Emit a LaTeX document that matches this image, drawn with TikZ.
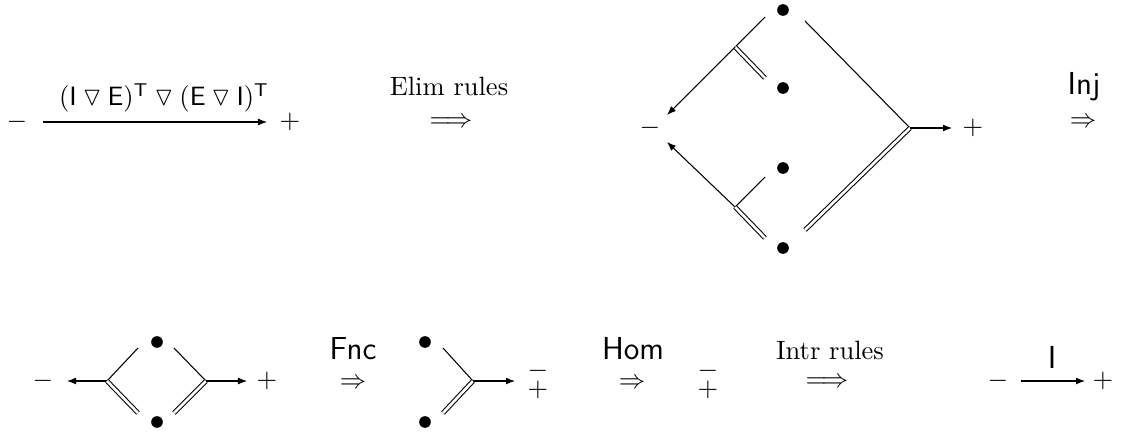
\documentclass[tikz,border=0pt]{standalone}
\usepackage{amsmath,amssymb}
\usetikzlibrary{arrows.meta}
\begin{document}
\begin{tikzpicture}[x=0.3774pt,y=-0.3774pt,
  dot/.style={circle,fill,inner sep=0pt,minimum size=4.4pt},
  conn/.style={line width=0.4pt},
  arr/.style={-{Latex[length=3.4pt,width=2.6pt]},line width=0.4pt},
  dbl/.style={double,double distance=1pt,line width=0.4pt},
  lbl/.style={inner sep=0pt},
  sflbl/.style={inner sep=0pt,font=\large\sffamily}]
\useasboundingbox (0,0) rectangle (1125,431);
% ---------- top row, first formula ----------
\node[lbl] (m1) at (17,122) {$-$};
\node[lbl] (p1) at (290,122) {$+$};
\coordinate (a1s) at (43,122);
\coordinate (a1e) at (267,122);
\draw[arr] (a1s) -- (a1e);
\node[lbl] (f1) at (164,98) {$(\mathsf{I}\mathbin{\triangledown}\mathsf{E})^{\mathsf{T}}\mathbin{\triangledown}(\mathsf{E}\mathbin{\triangledown}\mathsf{I})^{\mathsf{T}}$};
% Elim rules
\node[lbl] (elim) at (449,86) {Elim rules};
\node[lbl] (elimA) at (451,123) {$\Longrightarrow$};
% ---------- diamond ----------
\node[dot] (b1) at (783,10) {};
\node[dot] (b2) at (783,88) {};
\node[dot] (b3) at (783,168) {};
\node[dot] (b4) at (783,248) {};
\node[lbl] (m2) at (650,128) {$-$};
\node[lbl] (p2) at (973,128) {$+$};
\coordinate (ju) at (735,47);
\coordinate (jl) at (735,207);
\coordinate (jr) at (910,128);
\coordinate (u1) at (765,17);
\coordinate (u2) at (765,78);
\coordinate (l1) at (765,177);
\coordinate (l2) at (765,238);
\coordinate (r1) at (805,21);
\coordinate (r2) at (805,230);
\coordinate (au) at (667,115);
\coordinate (al) at (667,142);
\coordinate (ar) at (952,128);
\draw[conn] (u1) -- (ju);
\draw[dbl] (ju) -- (u2);
\draw[arr] (ju) -- (au);
\draw[conn] (l1) -- (jl);
\draw[dbl] (jl) -- (l2);
\draw[arr] (jl) -- (al);
\draw[conn] (r1) -- (jr);
\draw[dbl] (r2) -- (jr);
\draw[arr] (jr) -- (ar);
% Inj
\node[sflbl] (inj) at (1084,87) {Inj};
\node[lbl] (injA) at (1083,123) {$\Rightarrow$};
% ---------- bottom row ----------
\node[lbl] (m3) at (43,381) {$-$};
\node[dot] (c1) at (157,342) {};
\node[dot] (c2) at (157,422) {};
\coordinate (k1) at (107,381);
\coordinate (k2) at (206,381);
\coordinate (k1a) at (67,381);
\coordinate (k2a) at (247,381);
\coordinate (k1u) at (138,348);
\coordinate (k1d) at (138,413);
\coordinate (k2u) at (174,348);
\coordinate (k2d) at (174,413);
\draw[arr] (k1) -- (k1a);
\draw[conn] (k1u) -- (k1);
\draw[dbl] (k1) -- (k1d);
\draw[conn] (k2u) -- (k2);
\draw[dbl] (k2d) -- (k2);
\draw[arr] (k2) -- (k2a);
\node[lbl] (p3) at (267,381) {$+$};
% Fnc
\node[sflbl] (fnc) at (353,349) {Fnc};
\node[lbl] (fncA) at (353,384) {$\Rightarrow$};
% half diamond
\node[dot] (d1) at (425,342) {};
\node[dot] (d2) at (425,422) {};
\coordinate (h) at (473,381);
\coordinate (hu) at (443,348);
\coordinate (hd) at (443,413);
\coordinate (ha) at (515,381);
\draw[conn] (hu) -- (h);
\draw[dbl] (hd) -- (h);
\draw[arr] (h) -- (ha);
\node[lbl] (s1m) at (538,371) {$-$};
\node[lbl] (s1p) at (538,390) {$+$};
% Hom
\node[sflbl] (hom) at (633,349) {Hom};
\node[lbl] (homA) at (632,384) {$\Rightarrow$};
\node[lbl] (s2m) at (708,371) {$-$};
\node[lbl] (s2p) at (708,390) {$+$};
% Intr rules
\node[lbl] (intr) at (830,350) {Intr rules};
\node[lbl] (intrA) at (827,383) {$\Longrightarrow$};
% final
\node[lbl] (m4) at (998,381) {$-$};
\node[lbl] (p4) at (1103,381) {$+$};
\coordinate (fs) at (1021,381);
\coordinate (fe) at (1085,381);
\draw[arr] (fs) -- (fe);
\node[sflbl] (iL) at (1052,357) {I};
\end{tikzpicture}
\end{document}
